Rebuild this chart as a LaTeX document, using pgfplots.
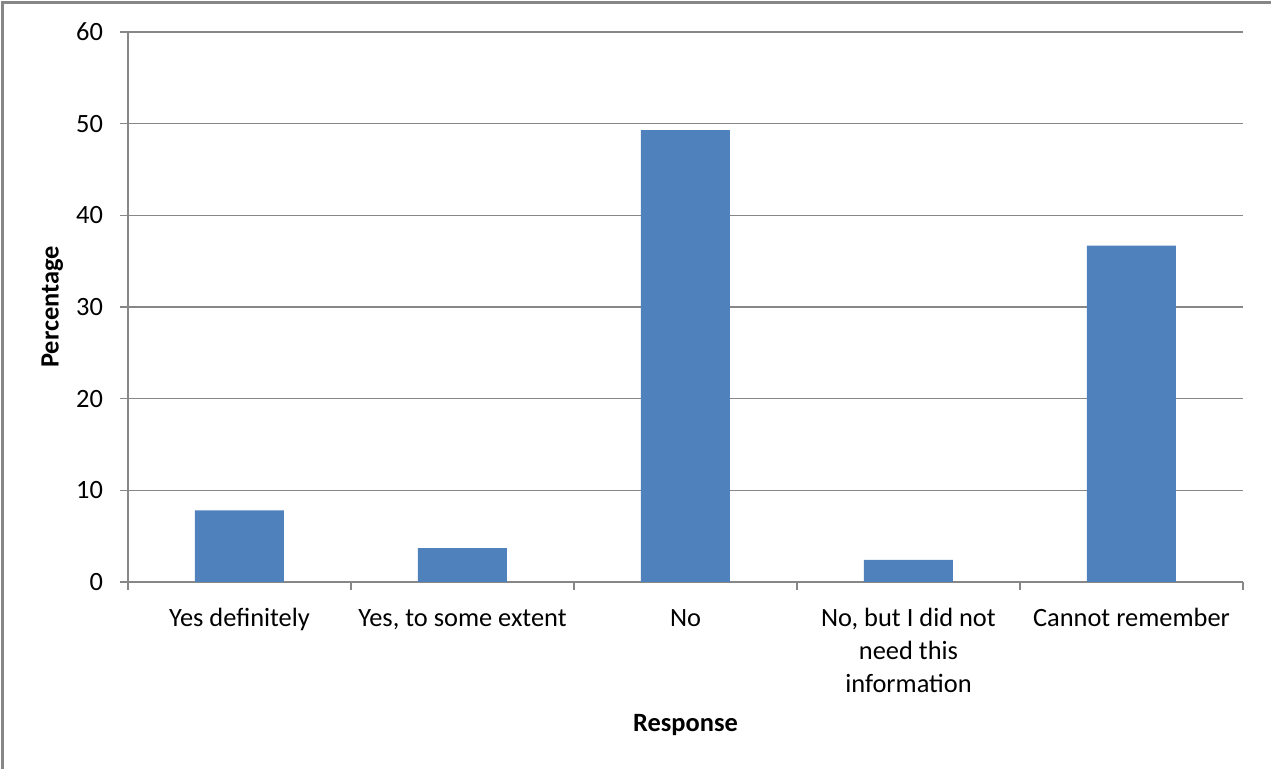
\documentclass[border=0pt]{standalone}
\usepackage{pgfplots}
\pgfplotsset{compat=1.18}
\usepackage{fontspec}
\setmainfont{Carlito}
\definecolor{barblue}{HTML}{4F81BD}
\definecolor{gridgray}{HTML}{878787}
\begin{document}
\begin{tikzpicture}
\path[use as bounding box] (-64pt,-93.5pt) rectangle (571.5pt,291pt);
\draw[gridgray, line width=1.2pt] (-62.8pt,-93.5pt) -- (-62.8pt,289.8pt) -- (571.5pt,289.8pt);
\begin{axis}[
  at={(0,0)}, anchor=south west,
  scale only axis,
  width=557.5pt, height=275pt,
  xmin=-0.5, xmax=4.5,
  ymin=0, ymax=60,
  ytick={0,10,...,60},
  xtick={0,1,2,3,4},
  xticklabels={\strut Yes definitely, {\strut Yes, to some extent}, \strut No, {\strut No, but I did not\\need this\\information}, \strut Cannot remember},
  minor xtick={-0.5,0.5,...,4.5},
  major x tick style={draw=none},
  minor tick length=4pt,
  major tick length=4pt,
  tick align=outside,
  tick style={gridgray, line width=0.6pt},
  ymajorgrids,
  grid style={gridgray, line width=0.6pt},
  axis lines*=left,
  axis line style={gridgray, line width=0.6pt},
  tick label style={font=\fontsize{13.2}{16.5}\selectfont, text=black},
  xticklabel style={align=center, yshift=-3pt},
  yticklabel style={xshift=-5pt},
  ylabel={\textbf{Percentage}},
  xlabel={\textbf{Response}},
  label style={font=\fontsize{13.2}{16.5}\selectfont},
  ylabel style={at={(axis description cs:-0.068,0.5)}, anchor=center},
  xlabel style={at={(axis description cs:0.5,-0.26)}, anchor=center},
  ybar, bar width=44.5pt,
  /pgf/number format/assume math mode=true,
]
\addplot[fill=barblue, draw=none] coordinates {(0,7.8) (1,3.7) (2,49.3) (3,2.4) (4,36.7)};
\end{axis}
\end{tikzpicture}
\end{document}
